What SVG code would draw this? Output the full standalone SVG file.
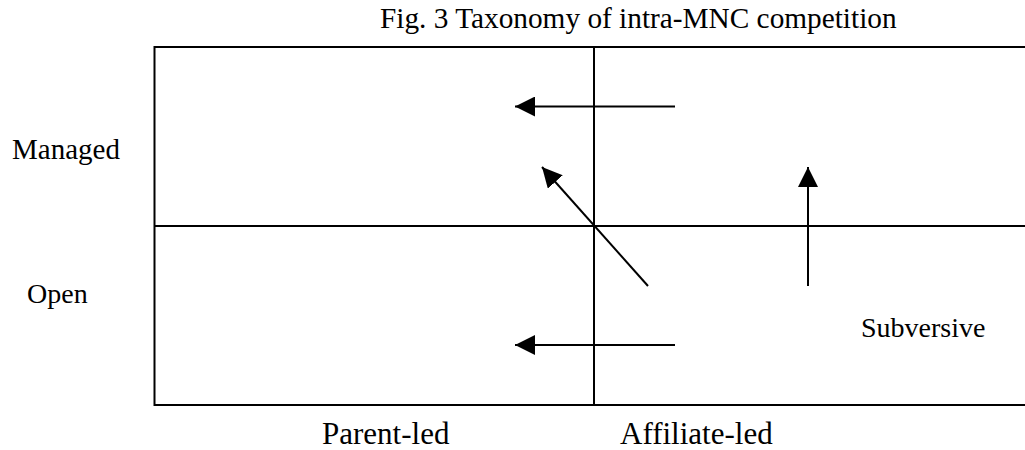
<svg xmlns="http://www.w3.org/2000/svg" width="1025" height="450" viewBox="0 0 1025 450">
<style>
.t{font-family:"Liberation Serif","Times New Roman",serif;font-size:28px;fill:#000}
.big{font-size:31px}
.frame{stroke:#000;stroke-width:2;fill:none}
.arr{stroke:#000;stroke-width:2;fill:none;marker-end:url(#ah)}
</style>
<defs>
<marker id="ah" viewBox="0 0 20 20" refX="20" refY="10" markerWidth="20" markerHeight="20" markerUnits="userSpaceOnUse" orient="auto">
<path d="M0,0 L20,10 L0,20 Z" fill="#000"/>
</marker>
</defs>
<rect width="1025" height="450" fill="#fff"/>
<g id="title"><text class="t" x="380" y="28" style="font-size:29.3px">Fig. 3 Taxonomy of intra-MNC competition</text></g>
<g id="grid">
<path class="frame" d="M1025,47 H154.5 V405 H1025"/>
<line class="frame" x1="594" y1="47" x2="594" y2="405"/>
<line class="frame" x1="154.5" y1="226" x2="1025" y2="226"/>
</g>
<g id="labels">
<text class="t" x="12" y="159" style="font-size:29px">Managed</text>
<text class="t" x="27" y="303">Open</text>
<text class="t" x="861" y="337">Subversive</text>
<text class="t big" x="322" y="444">Parent-led</text>
<text class="t big" x="620" y="444">Affiliate-led</text>
</g>
<g id="connectors">
<line class="arr" x1="675" y1="106.5" x2="515" y2="106.5"/>
<line class="arr" x1="675" y1="345" x2="515" y2="345"/>
<line class="arr" x1="648" y1="286" x2="542" y2="167"/>
<line class="arr" x1="808" y1="286" x2="808" y2="167"/>
</g>
</svg>
